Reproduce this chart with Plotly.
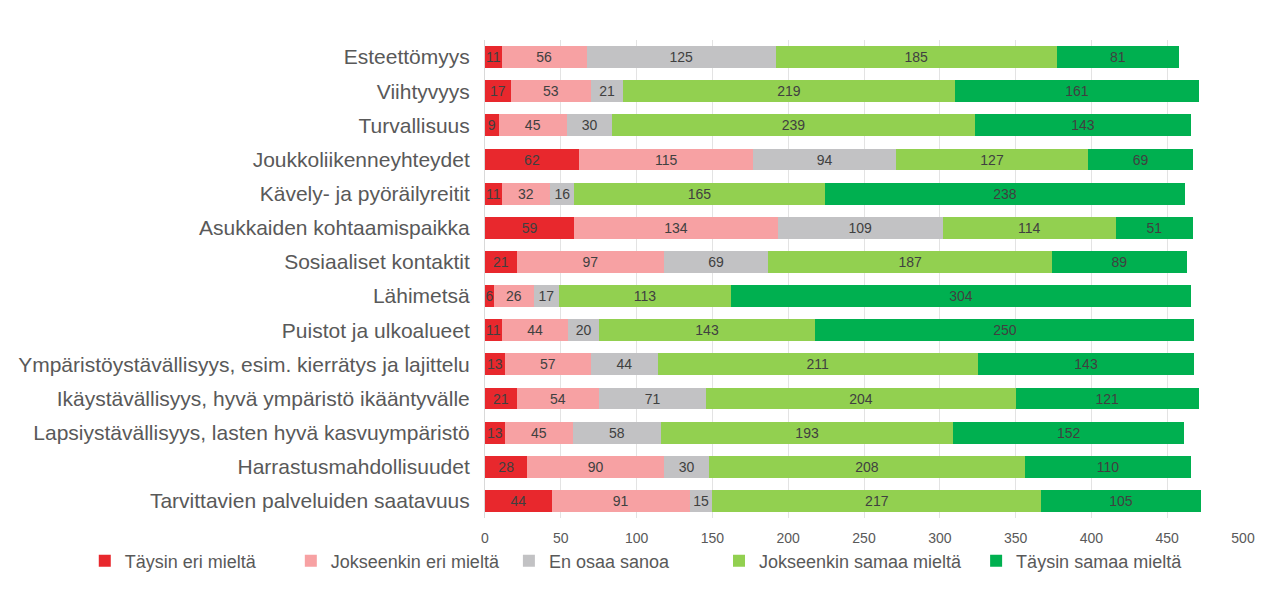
import plotly.graph_objects as go

categories = [
    "Esteettömyys",
    "Viihtyvyys",
    "Turvallisuus",
    "Joukkoliikenneyhteydet",
    "Kävely- ja pyöräilyreitit",
    "Asukkaiden kohtaamispaikka",
    "Sosiaaliset kontaktit",
    "Lähimetsä",
    "Puistot ja ulkoalueet",
    "Ympäristöystävällisyys, esim. kierrätys ja lajittelu",
    "Ikäystävällisyys, hyvä ympäristö ikääntyvälle",
    "Lapsiystävällisyys, lasten hyvä kasvuympäristö",
    "Harrastusmahdollisuudet",
    "Tarvittavien palveluiden saatavuus",
]

taysin_eri = [11, 17, 9, 62, 11, 59, 21, 6, 11, 13, 21, 13, 28, 44]
jokseenkin_eri = [56, 53, 45, 115, 32, 134, 97, 26, 44, 57, 54, 45, 90, 91]
en_osaa = [125, 21, 30, 94, 16, 109, 69, 17, 20, 44, 71, 58, 30, 15]
jokseenkin_samaa = [185, 219, 239, 127, 165, 114, 187, 113, 143, 211, 204, 193, 208, 217]
taysin_samaa = [81, 161, 143, 69, 238, 51, 89, 304, 250, 143, 121, 152, 110, 105]

series_names = ["Täysin eri mieltä", "Jokseenkin eri mieltä", "En osaa sanoa",
                "Jokseenkin samaa mieltä", "Täysin samaa mieltä"]
series_values = [taysin_eri, jokseenkin_eri, en_osaa, jokseenkin_samaa, taysin_samaa]
colors = ["#E8282D", "#F7A1A3", "#C2C2C4", "#92D050", "#00B050"]
# extra non-breaking spaces to spread the legend entries like the original
legend_pad = [6, 1, 9, 2, 0]

font_family = "Liberation Sans, Arial, sans-serif"

fig = go.Figure()
for name, vals, col, pad in zip(series_names, series_values, colors, legend_pad):
    fig.add_trace(go.Bar(
        y=categories, x=vals, name=name + "\u00a0" * pad, orientation="h",
        marker=dict(color=col, line=dict(width=0)),
        text=vals, textposition="inside", insidetextanchor="middle",
        textangle=0,
        textfont=dict(size=14, color="#404040", family=font_family),
        hovertemplate="%{y}<br>" + name + ": %{x}<extra></extra>",
    ))

fig.update_layout(
    barmode="stack",
    bargap=0.36,
    width=1261, height=592,
    margin=dict(l=485, r=18, t=40, b=72),
    paper_bgcolor="white", plot_bgcolor="white",
    font=dict(family=font_family, color="#595959"),
    uniformtext=dict(minsize=14, mode="show"),
    xaxis=dict(range=[0, 500], dtick=50, showgrid=True, gridcolor="#E3E3E3",
               zeroline=False, tickfont=dict(size=14, color="#595959"), ticks="",
               ticklabelstandoff=10, automargin=False),
    yaxis=dict(autorange="reversed", tickfont=dict(size=21, color="#595959"),
               ticks="", ticklabelstandoff=10, showline=True, linecolor="#D9D9D9",
               automargin=False),
    legend=dict(orientation="h", x=-0.528, xanchor="left",
                y=-0.09, yanchor="middle",
                font=dict(size=18, color="#595959"), traceorder="normal",
                itemwidth=30),
    showlegend=True,
)

# remove the default page margin so the figure sits at the window's corner
fig.write_html("out.html", config={"displayModeBar": False},
               post_script="document.body.style.margin='0';")
